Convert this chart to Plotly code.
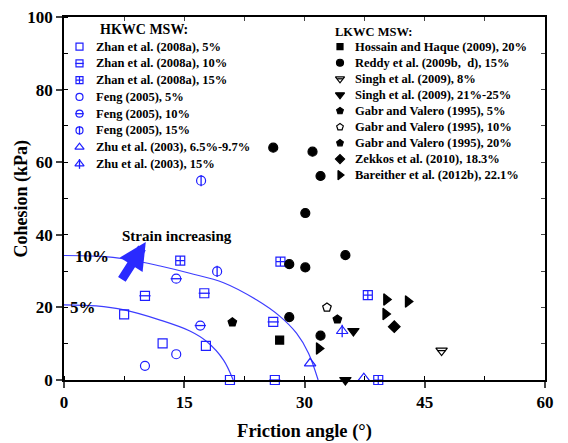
import plotly.graph_objects as go

# ---------------- data ----------------
zhan5_x = [7.5, 12.3, 17.7, 20.7];        zhan5_y = [18.1, 10.1, 9.4, 0.0]
zhan10_x = [10.1, 17.5, 26.1, 26.3];      zhan10_y = [23.2, 23.9, 16.0, 0.0]
zhan15_x = [14.5, 27.0, 37.9, 39.2];      zhan15_y = [32.9, 32.6, 23.4, 0.0]
feng5_x = [10.1, 14.0];                   feng5_y = [3.9, 7.1]
feng10_x = [14.0, 17.0];                  feng10_y = [27.9, 15.0]
feng15_x = [17.1, 19.1];                  feng15_y = [54.9, 29.9]
zhu65_x = [30.7, 37.4];                   zhu65_y = [4.6, 0.5]
zhu15_x = [34.7];                         zhu15_y = [13.5]

hossain_x = [26.9];                       hossain_y = [11.0]
reddy_x = [26.1, 31.0, 32.0, 30.1, 28.1, 30.1, 35.1, 28.1, 32.0]
reddy_y = [64.0, 62.9, 56.2, 46.0, 31.9, 31.0, 34.4, 17.3, 12.2]
singh8_x = [47.1];                        singh8_y = [8.1]
singh21_x = [36.1, 35.1];                 singh21_y = [13.5, 0.0]
gabr5_x = [21.0];                         gabr5_y = [15.9]
gabr10_x = [32.8];                        gabr10_y = [20.0]
gabr20_x = [34.1];                        gabr20_y = [16.7]
zekkos_x = [41.2];                        zekkos_y = [14.7]
bare_x = [40.2, 42.9, 40.1, 31.8];        bare_y = [22.2, 21.6, 18.2, 8.7]

curve10_x = [0, 4, 8, 12, 15.7, 19.9, 24.0, 26.9, 29.0, 30.5, 31.7]
curve10_y = [34.3, 34.1, 33.2, 31.4, 29.4, 26.8, 22.1, 17.6, 12.9, 7.4, 0.0]
curve5_x = [0, 4, 7.5, 12.0, 15.7, 17.8, 19.9, 21.1]
curve5_y = [20.7, 20.4, 19.3, 16.5, 13.5, 10.6, 5.5, 0.0]

x_ticks = [0, 15, 30, 45, 60]
y_ticks = [0, 20, 40, 60, 80, 100]

hk_names = ["Zhan et al. (2008a), 5%", "Zhan et al. (2008a), 10%", "Zhan et al. (2008a), 15%",
            "Feng (2005), 5%", "Feng (2005), 10%", "Feng (2005), 15%",
            "Zhu et al. (2003), 6.5%-9.7%", "Zhu et al. (2003), 15%"]
lk_names = ["Hossain and Haque (2009), 20%", "Reddy et al. (2009b,  d), 15%", "Singh et al. (2009), 8%",
            "Singh et al. (2009), 21%-25%", "Gabr and Valero (1995), 5%", "Gabr and Valero (1995), 10%",
            "Gabr and Valero (1995), 20%", "Zekkos et al. (2010), 18.3%", "Bareither et al. (2012b), 22.1%"]

BLUE = "#1f1fff"
FONT = "Liberation Serif"

# series styles: (x, y, base symbol, overlay symbol, colour, size)
hk_series = [
    (zhan5_x, zhan5_y, "square-open", None, BLUE, 9),
    (zhan10_x, zhan10_y, "square-open", "line-ew-open", BLUE, 9),
    (zhan15_x, zhan15_y, "square-cross-open", None, BLUE, 9),
    (feng5_x, feng5_y, "circle-open", None, BLUE, 9),
    (feng10_x, feng10_y, "circle-open", "line-ew-open", BLUE, 9),
    (feng15_x, feng15_y, "circle-open", "line-ns-open", BLUE, 9),
    (zhu65_x, zhu65_y, "triangle-up-open", None, BLUE, 10),
    (zhu15_x, zhu15_y, "triangle-up-open", "line-ns-open", BLUE, 10),
]
lk_series = [
    (hossain_x, hossain_y, "square", None, "black", 8),
    (reddy_x, reddy_y, "circle", None, "black", 9),
    (singh8_x, singh8_y, "triangle-down-open", "line-ew-open", "black", 10),
    (singh21_x, singh21_y, "triangle-down", None, "black", 10),
    (gabr5_x, gabr5_y, "pentagon", None, "black", 9),
    (gabr10_x, gabr10_y, "pentagon-open", None, "black", 9),
    (gabr20_x, gabr20_y, "pentagon", None, "black", 9),
    (zekkos_x, zekkos_y, "diamond", None, "black", 9),
    (bare_x, bare_y, "triangle-right", None, "black", 10),
]

fig = go.Figure()

# fitted curves
for cx, cy in [(curve10_x, curve10_y), (curve5_x, curve5_y)]:
    fig.add_trace(go.Scatter(x=cx, y=cy, mode="lines", showlegend=False, hoverinfo="skip",
                             line=dict(color="#3d3dff", width=1.2, shape="spline")))


def marker_traces(x, y, sym, ovl, color, size, xaxis="x", yaxis="y", name=None):
    fig.add_trace(go.Scatter(x=x, y=y, mode="markers", name=name, showlegend=False, xaxis=xaxis, yaxis=yaxis,
                             cliponaxis=False,
                             marker=dict(symbol=sym, size=size, color=color, line=dict(color=color, width=1.2))))
    if ovl:
        osz = size - 1 if "triangle-down" not in sym else size - 4
        fig.add_trace(go.Scatter(x=x, y=y, mode="markers", showlegend=False, xaxis=xaxis, yaxis=yaxis,
                                 hoverinfo="skip", cliponaxis=False,
                                 marker=dict(symbol=ovl, size=osz, color=color, line=dict(color=color, width=1.3))))


for (x, y, sym, ovl, col, sz), nm in zip(hk_series + lk_series, hk_names + lk_names):
    marker_traces(x, y, sym, ovl, col, sz, name=nm)

# ---- legends (symbol keys on a hidden 0..1 overlay axis, labels as text) ----
PX_L, PX_T, PW, PH = 64, 17, 481, 363


def px_to_paper(px, py):
    return (px - PX_L) / PW, (PX_T + PH - py) / PH


annotations = []
for names, series, sym_px, txt_px, row0, step in [
        (hk_names, hk_series, 79.5, 93.5, 46.7, 16.75),
        (lk_names, lk_series, 340.0, 353.3, 46.7, 16.05)]:
    for i, (nm, s) in enumerate(zip(names, series)):
        sx, sy = px_to_paper(sym_px, row0 + i * step)
        tx, ty = px_to_paper(txt_px, row0 + i * step)
        marker_traces([sx], [sy], s[2], s[3], s[4], s[5] - 2, xaxis="x3", yaxis="y3")
        annotations.append(dict(x=tx, y=ty, xref="paper", yref="paper", xanchor="left", yanchor="middle",
                                text=nm, showarrow=False,
                                font=dict(family=FONT, size=12.5, color="black", weight="bold")))

hx, hy = px_to_paper(98, 29)
lx, ly = px_to_paper(333, 32)
ytx, _ = px_to_paper(21, 0)
annotations += [
    dict(x=hx, y=hy, xref="paper", yref="paper", xanchor="left", yanchor="middle",
         text="HKWC MSW:", showarrow=False, font=dict(family=FONT, size=14, weight="bold")),
    dict(x=lx, y=ly, xref="paper", yref="paper", xanchor="left", yanchor="middle",
         text="LKWC MSW:", showarrow=False, font=dict(family=FONT, size=12.5, weight="bold")),
    dict(x=ytx, y=0.5, xref="paper", yref="paper", xanchor="center", yanchor="middle", textangle=-90,
         text="Cohesion (kPa)", showarrow=False, font=dict(family=FONT, size=18, weight="bold")),
    dict(x=3.5, y=33.9, xref="x", yref="y", text="10%", showarrow=False,
         font=dict(family=FONT, size=17, weight="bold")),
    dict(x=2.4, y=20.1, xref="x", yref="y", text="5%", showarrow=False,
         font=dict(family=FONT, size=17, weight="bold")),
    dict(x=14.1, y=39.7, xref="x", yref="y", text="Strain increasing", showarrow=False,
         font=dict(family=FONT, size=15, weight="bold")),
    dict(x=10.2, y=38.0, ax=7.1, ay=27.3, xref="x", yref="y", axref="x", ayref="y", text="",
         showarrow=True, arrowhead=2, arrowsize=0.6, arrowwidth=9, arrowcolor="#2a2aff"),
]

# empty trace for the mirrored (top/right) tick axes
fig.add_trace(go.Scatter(x=[], y=[], xaxis="x2", yaxis="y2", showlegend=False))

tickfont = dict(family=FONT, size=17, color="black", weight="bold")
titlefont = dict(family=FONT, size=18.5, color="black", weight="bold")

fig.update_layout(
    width=568, height=443,
    margin=dict(l=PX_L, r=568 - PX_L - PW, t=PX_T, b=443 - PX_T - PH, autoexpand=False),
    paper_bgcolor="white", plot_bgcolor="white",
    font=dict(family=FONT, color="black"),
    showlegend=False,
    xaxis=dict(range=[0, 60], tickvals=x_ticks, ticks="outside", ticklen=6, tickwidth=1.5, automargin=False,
               showline=True, linecolor="black", linewidth=1.5, mirror=True, showgrid=False, zeroline=False,
               tickfont=tickfont, title=dict(text="Friction angle (°)", font=titlefont, standoff=13),
               minor=dict(dtick=7.5, ticks="inside", ticklen=4, tickwidth=1.2, tickcolor="black", showgrid=False)),
    yaxis=dict(range=[0, 100], tickvals=y_ticks, ticks="outside", ticklen=6, tickwidth=1.5, automargin=False,
               showline=True, linecolor="black", linewidth=1.5, mirror=True, showgrid=False, zeroline=False,
               tickfont=tickfont,
               minor=dict(dtick=10, ticks="inside", ticklen=4, tickwidth=1.2, tickcolor="black", showgrid=False)),
    xaxis2=dict(range=[0, 60], overlaying="x", side="top", dtick=7.5, ticks="inside", ticklen=4, automargin=False,
                showticklabels=False, showgrid=False, zeroline=False, showline=False),
    yaxis2=dict(range=[0, 100], overlaying="y", side="right", dtick=10, ticks="inside", ticklen=4, automargin=False,
                showticklabels=False, showgrid=False, zeroline=False, showline=False),
    xaxis3=dict(range=[0, 1], overlaying="x", visible=False, automargin=False),
    yaxis3=dict(range=[0, 1], overlaying="y", visible=False, automargin=False),
    annotations=annotations,
)

fig.write_html("out.html")
